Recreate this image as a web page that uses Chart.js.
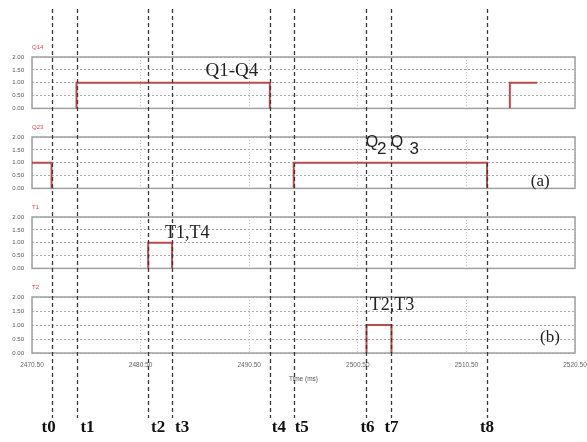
<!DOCTYPE html>
<html>
<head>
<meta charset="utf-8">
<script src="https://cdn.jsdelivr.net/npm/chart.js@4.4.0/dist/chart.umd.min.js"></script>
<style>
  html, body { margin: 0; padding: 0; background: #fff; width: 587px; height: 442px; overflow: hidden; }
  #wrap { position: relative; width: 587px; height: 442px; }
  canvas { position: absolute; left: 0; }
</style>
</head>
<body>
<div id="wrap">
  <canvas id="c1" width="587" height="120" style="top:0px"></canvas>
  <canvas id="c2" width="587" height="80" style="top:120px"></canvas>
  <canvas id="c3" width="587" height="80" style="top:200px"></canvas>
  <canvas id="c4" width="587" height="162" style="top:280px"></canvas>
</div>
<script>
// axis ticks
const xTicks = [2470.5, 2480.5, 2490.5, 2500.5, 2510.5, 2520.5];
const yTicks = [0, 0.5, 1, 1.5, 2];

// switching instants (dashed lines)
const eventNames = ['t0', 't1', 't2', 't3', 't4', 't5', 't6', 't7', 't8'];
const eventTimes = [2472.3, 2474.6, 2481.2, 2483.4, 2492.4, 2494.6, 2501.3, 2503.6, 2512.4];

// gate signals, time (ms) / level
const q14Time  = [2470.5, 2474.6, 2474.6, 2492.4, 2492.4, 2514.5, 2514.5, 2517.0];
const q14Level = [0, 0, 1, 1, 0, 0, 1, 1];
const q23Time  = [2470.5, 2472.3, 2472.3, 2494.6, 2494.6, 2512.4, 2512.4, 2520.5];
const q23Level = [1, 1, 0, 0, 1, 1, 0, 0];
const t1Time   = [2470.5, 2481.2, 2481.2, 2483.4, 2483.4, 2520.5];
const t1Level  = [0, 0, 1, 1, 0, 0];
const t2Time   = [2470.5, 2501.3, 2501.3, 2503.6, 2503.6, 2520.5];
const t2Level  = [0, 0, 1, 1, 0, 0];

const redLine = '#bd4a4a';
const serif = '"Liberation Serif", "DejaVu Serif", serif';
const sans = '"Liberation Sans", "DejaVu Sans", sans-serif';

const panels = [
  { id: 'c1', top: 0, name: 'Q14', time: q14Time, level: q14Level, padTop: 57, padBottom: 7,
    notes: [{ text: 'Q1-Q4', x: 2488.9, y: 1.45, font: '19px ' + serif }] },
  { id: 'c2', top: 120, name: 'Q23', time: q23Time, level: q23Level, padTop: 17, padBottom: 7,
    notes: [
      { text: 'Q', x: 2501.8, y: 1.77, font: '16px ' + sans },
      { text: '2', x: 2502.7, y: 1.52, font: '17px ' + sans },
      { text: 'Q', x: 2504.1, y: 1.77, font: '16px ' + sans },
      { text: '3', x: 2505.7, y: 1.52, font: '17px ' + sans },
      { text: '(a)', x: 2517.3, y: 0.27, font: '17px ' + serif }
    ] },
  { id: 'c3', top: 200, name: 'T1', time: t1Time, level: t1Level, padTop: 17, padBottom: 7,
    notes: [{ text: 'T1,T4', x: 2484.8, y: 1.38, font: '18px ' + serif }] },
  { id: 'c4', top: 280, name: 'T2', time: t2Time, level: t2Level, padTop: 17, padBottom: 59, axis: true,
    notes: [
      { text: 'T2,T3', x: 2503.65, y: 1.70, font: '18px ' + serif },
      { text: '(b)', x: 2518.2, y: 0.55, font: '17px ' + serif }
    ] }
];

// small sideways shifts of the t-labels relative to their lines
const labelNudge = [-3, 11, 10, 10, 9, 8, 1, 0, 0];

function makeChart(p) {
  const deco = {
    id: 'deco',
    beforeDatasetsDraw(chart) {
      const { ctx, chartArea: a } = chart;
      ctx.save();
      ctx.strokeStyle = '#a0a0a0';
      ctx.lineWidth = 1.5;
      ctx.strokeRect(a.left, a.top, a.right - a.left, a.bottom - a.top);
      ctx.fillStyle = '#e04848';
      ctx.font = '6px ' + sans;
      ctx.textAlign = 'left';
      ctx.textBaseline = 'middle';
      ctx.fillText(p.name, a.left, a.top - 10);
      ctx.restore();
    },
    afterDraw(chart) {
      const { ctx } = chart;
      const xs = chart.scales.x, ys = chart.scales.y;
      ctx.save();
      ctx.fillStyle = '#222';
      ctx.textAlign = 'center';
      ctx.textBaseline = 'middle';
      p.notes.forEach(n => {
        ctx.font = n.font;
        ctx.fillText(n.text, xs.getPixelForValue(n.x), ys.getPixelForValue(n.y));
      });
      // dashed lines run through all panels
      const y0 = Math.max(9, p.top), y1 = Math.min(418, p.top + chart.height);
      ctx.strokeStyle = '#3a3a3a';
      ctx.lineWidth = 1.3;
      ctx.setLineDash([4, 3]);
      ctx.lineDashOffset = y0 - 9;
      eventTimes.forEach(t => {
        const px = Math.round(xs.getPixelForValue(t)) + 0.5;
        ctx.beginPath();
        ctx.moveTo(px, y0 - p.top);
        ctx.lineTo(px, y1 - p.top);
        ctx.stroke();
      });
      if (p.axis) {
        ctx.setLineDash([]);
        ctx.fillStyle = '#111';
        ctx.font = 'bold 17px ' + serif;
        eventTimes.forEach((t, i) => {
          ctx.fillText(eventNames[i], xs.getPixelForValue(t) + labelNudge[i], 428 - p.top);
        });
      }
      ctx.restore();
    }
  };

  return new Chart(document.getElementById(p.id), {
    type: 'scatter',
    data: {
      datasets: [{
        data: p.time.map((t, i) => ({ x: t, y: p.level[i] })),
        showLine: true,
        borderColor: redLine,
        borderWidth: 2,
        pointRadius: 0,
        segment: {
          borderColor: c => (c.p0.parsed.y === 0 && c.p1.parsed.y === 0) ? 'rgba(0,0,0,0)' : redLine
        }
      }]
    },
    options: {
      responsive: false,
      animation: false,
      events: [],
      layout: { padding: { left: 0, right: 12, top: p.padTop, bottom: p.padBottom } },
      plugins: { legend: { display: false }, tooltip: { enabled: false } },
      scales: {
        x: {
          type: 'linear',
          min: xTicks[0],
          max: xTicks[xTicks.length - 1],
          afterBuildTicks: s => { s.ticks = xTicks.map(v => ({ value: v })); },
          afterFit: s => {
            s.paddingLeft = 0;
            s.paddingRight = 0;
            if (p.axis) s.height = 30;
          },
          grid: { color: '#c4c4c4', drawTicks: false },
          border: { display: false, dash: [1, 2] },
          ticks: {
            display: !!p.axis, padding: 8, color: '#666', maxRotation: 0, autoSkip: false,
            font: { size: 6.5, family: sans },
            callback: v => Number(v).toFixed(2)
          },
          title: {
            display: !!p.axis, text: 'Time (ms)', color: '#555', padding: 0,
            font: { size: 6.5, family: sans }
          }
        },
        y: {
          min: 0,
          max: 2,
          afterBuildTicks: s => { s.ticks = yTicks.map(v => ({ value: v })); },
          afterFit: s => { s.width = 32; },
          grid: { color: '#aaa', drawTicks: false },
          border: { display: false, dash: [2, 2] },
          ticks: {
            padding: 8, color: '#555',
            font: { size: 6, family: sans },
            callback: v => Number(v).toFixed(2)
          }
        }
      }
    },
    plugins: [deco]
  });
}

panels.forEach(makeChart);
</script>
</body>
</html>
